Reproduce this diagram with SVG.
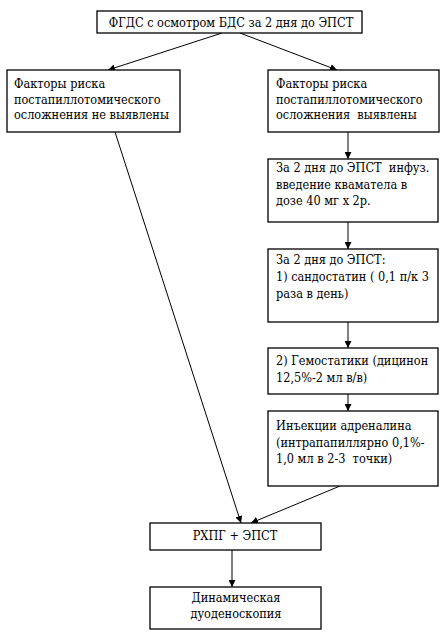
<svg xmlns="http://www.w3.org/2000/svg" width="444" height="632" viewBox="0 0 444 632">
<style>
rect{fill:#fff;stroke:#000;stroke-width:1.3}
text{font-family:"DejaVu Serif","Liberation Serif",serif;font-stretch:condensed;font-size:12.6px;fill:#000}
.c{text-anchor:middle}
#connectors line{stroke:#000;stroke-width:1;marker-end:url(#ah)}
</style>
<defs>
<marker id="ah" viewBox="0 0 10 10" refX="10" refY="5" markerWidth="7" markerHeight="7" markerUnits="userSpaceOnUse" orient="auto">
<path d="M0,0L10,5L0,10z" fill="#000"/>
</marker>
</defs>
<rect x="0" y="0" width="444" height="632" style="fill:#fff;stroke:none"/>
<g id="connectors">
<line x1="222" y1="33" x2="108" y2="70"/>
<line x1="240" y1="33" x2="337" y2="70"/>
<line x1="348" y1="132" x2="348" y2="159"/>
<line x1="348" y1="222" x2="348" y2="249"/>
<line x1="348" y1="322" x2="348" y2="348"/>
<line x1="348" y1="386" x2="348" y2="411"/>
<line x1="115" y1="132" x2="241" y2="523"/>
<line x1="340" y1="486" x2="251" y2="523"/>
<line x1="232" y1="550" x2="232" y2="587"/>
</g>
<g id="n1"><rect x="97" y="11" width="265" height="22"/><text class="c" x="231" y="27">ФГДС с осмотром БДС за 2 дня до ЭПСТ</text></g>
<g id="n2"><rect x="7" y="70" width="173" height="62"/><text x="14" y="88">Факторы риска</text><text x="14" y="103.5">постапиллотомического</text><text x="14" y="119">осложнения не выявлены</text></g>
<g id="n3"><rect x="268" y="70" width="171" height="62"/><text x="276" y="88">Факторы риска</text><text x="276" y="103.5">постапиллотомического</text><text x="276" y="119" xml:space="preserve">осложнения  выявлены</text></g>
<g id="n4"><rect x="268" y="159" width="170" height="63"/><text x="276" y="172" xml:space="preserve">За 2 дня до ЭПСТ  инфуз.</text><text x="276" y="188.5">введение кваматела в</text><text x="276" y="205">дозе 40 мг х 2р.</text></g>
<g id="n5"><rect x="268" y="249" width="170" height="73"/><text x="276" y="264">За 2 дня до ЭПСТ:</text><text x="276" y="281">1) сандостатин ( 0,1 п/к 3</text><text x="276" y="298">раза в день)</text></g>
<g id="n6"><rect x="268" y="348" width="170" height="46"/><text x="276" y="365">2) Гемостатики (дицинон</text><text x="276" y="382">12,5%-2 мл в/в)</text></g>
<g id="n7"><rect x="268" y="411" width="170" height="75"/><text x="276" y="430">Инъекции адреналина</text><text x="276" y="447">(интрапапиллярно 0,1%-</text><text x="276" y="463" xml:space="preserve">1,0 мл в 2-3  точки)</text></g>
<g id="n8"><rect x="150" y="523" width="171" height="27"/><text class="c" x="235" y="540">РХПГ + ЭПСТ</text></g>
<g id="n9"><rect x="150" y="587" width="171" height="42"/><text class="c" x="236" y="602">Динамическая</text><text class="c" x="236" y="618">дуоденоскопия</text></g>
</svg>
